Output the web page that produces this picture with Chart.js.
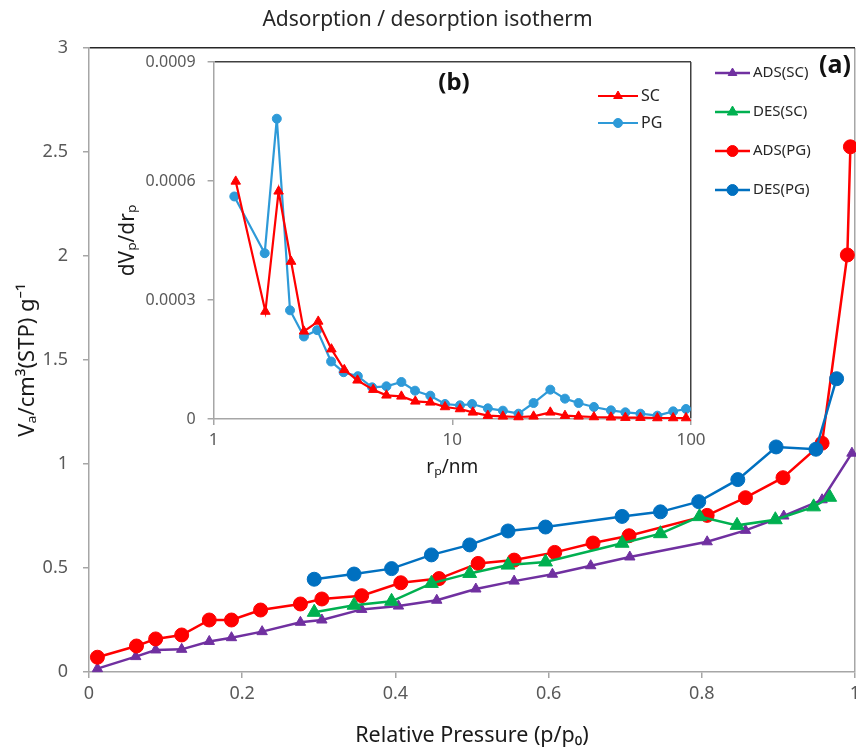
<!DOCTYPE html>
<html>
<head>
<meta charset="utf-8">
<script src="https://cdn.jsdelivr.net/npm/chart.js@4.4.1/dist/chart.umd.min.js"></script>
<style>
html,body{margin:0;padding:0;background:#fff;overflow:hidden;width:856px;height:749px;}
#main{position:absolute;left:0;top:0;}
#inset{position:absolute;left:110px;top:50px;background:#fff;}
</style>
</head>
<body>
<canvas id="main" width="880" height="749"></canvas>
<canvas id="inset" width="600" height="440"></canvas>
<script>
// ---------- main isotherm data (relative pressure p/p0, adsorbed volume) ----------
const pressureAdsSC = [0.011,0.061,0.087,0.121,0.157,0.186,0.226,0.276,0.304,0.356,0.404,0.454,0.505,0.555,0.605,0.655,0.706,0.807,0.857,0.907,0.957,0.996];
const volumeAdsSC   = [0.016,0.074,0.106,0.109,0.147,0.165,0.194,0.239,0.250,0.301,0.317,0.345,0.399,0.437,0.470,0.511,0.553,0.626,0.681,0.750,0.828,1.052];

const pressureDesSC = [0.294,0.346,0.395,0.447,0.497,0.547,0.596,0.696,0.746,0.797,0.846,0.896,0.946,0.967];
const volumeDesSC   = [0.287,0.321,0.340,0.426,0.474,0.514,0.529,0.619,0.665,0.747,0.705,0.732,0.794,0.840];

const pressureAdsPG = [0.011,0.062,0.087,0.121,0.157,0.186,0.224,0.276,0.304,0.356,0.407,0.457,0.508,0.555,0.608,0.658,0.705,0.807,0.857,0.906,0.957,0.990,0.994];
const volumeAdsPG   = [0.071,0.125,0.159,0.178,0.250,0.250,0.298,0.327,0.351,0.367,0.429,0.449,0.522,0.538,0.575,0.620,0.655,0.753,0.838,0.934,1.100,2.005,2.525];

const pressureDesPG = [0.294,0.346,0.395,0.447,0.497,0.547,0.596,0.696,0.746,0.796,0.847,0.897,0.949,0.976];
const volumeDesPG   = [0.446,0.471,0.497,0.563,0.611,0.678,0.697,0.748,0.770,0.819,0.925,1.082,1.071,1.410];

const mainSeriesLabels = ['ADS(SC)','DES(SC)','ADS(PG)','DES(PG)'];
const mainXTicks = [0,0.2,0.4,0.6,0.8,1];
const mainYTicks = [0,0.5,1,1.5,2,2.5,3];

// ---------- inset pore size distribution data (r_p nm, dV/dr) ----------
const radiusSC = [1.238,1.648,1.872,2.112,2.39,2.744,3.116,3.528,4.007,4.663,5.297,6.12,7.0,8.09,9.32,10.77,12.19,14.09,16.29,18.94,21.9,25.74,29.65,33.8,39.2,46.2,53.1,61.4,72.3,84.2,95.3];
const dvdrSC   = [0.000599,0.000271,0.000574,0.000397,0.000221,0.000246,0.000176,0.000124,0.0000975,0.000074,0.0000597,0.0000571,0.0000445,0.000042,0.0000303,0.0000252,0.0000168,0.0000084,0.0000067,0.000005,0.0000067,0.0000168,0.0000084,0.0000067,0.000005,0.0000042,0.0000034,0.0000034,0.0000025,0.0000025,0.0000025];

const radiusPG = [1.221,1.637,1.84,2.09,2.39,2.715,3.106,3.504,4.02,4.615,5.297,6.12,6.98,8.09,9.32,10.77,12.1,14.09,16.29,18.94,21.9,25.74,29.65,33.8,39.2,46.2,53.1,61.4,72.3,84.2,95.3];
const dvdrPG   = [0.000561,0.000418,0.000757,0.000274,0.000208,0.000224,0.000145,0.000118,0.000108,0.0000798,0.0000824,0.0000933,0.0000714,0.0000588,0.0000378,0.0000345,0.0000378,0.0000269,0.000021,0.0000134,0.0000403,0.000074,0.0000513,0.0000403,0.0000303,0.0000218,0.0000168,0.0000134,0.0000084,0.0000193,0.0000252];

const insetSeriesLabels = ['SC','PG'];
const insetXTicks = [1,10,100];
const insetYTicks = [0,0.0003,0.0006,0.0009];

// ---------- helpers ----------
const FONT = "'Noto Sans', 'Open Sans', 'DejaVu Sans', sans-serif";
const AXIS_GRAY = '#a6a6a6';
const TICK_TEXT = '#595959';
const zip = (xs, ys) => xs.map((x, i) => ({x: x, y: ys[i]}));
const fixedTicks = arr => scale => { scale.ticks = arr.map(v => ({value: v})); };

function drawMarker(ctx, style, r, x, y) {
  if (Chart.helpers && Chart.helpers.drawPoint) {
    Chart.helpers.drawPoint(ctx, {pointStyle: style, radius: r, borderWidth: 1, rotation: 0}, x, y);
    return;
  }
  ctx.beginPath();
  if (style === 'triangle') {
    ctx.moveTo(x, y - r);
    ctx.lineTo(x + r * 0.866, y + r * 0.5);
    ctx.lineTo(x - r * 0.866, y + r * 0.5);
    ctx.closePath();
  } else {
    ctx.arc(x, y, r, 0, Math.PI * 2);
  }
  ctx.fill();
}

const lineLegend = {
  id: 'lineLegend',
  afterDatasetsDraw(chart, args, opts) {
    if (!opts || !opts.items) return;
    const ctx = chart.ctx;
    ctx.save();
    opts.items.forEach((it, i) => {
      const ds = chart.data.datasets[it.index];
      const y = opts.y + i * opts.gap;
      ctx.strokeStyle = ds.borderColor;
      ctx.fillStyle = ds.borderColor;
      ctx.lineWidth = opts.lineWidth;
      ctx.beginPath();
      ctx.moveTo(opts.x, y);
      ctx.lineTo(opts.x + opts.len, y);
      ctx.stroke();
      ctx.lineWidth = 1;
      drawMarker(ctx, ds.pointStyle, it.r, opts.x + opts.len / 2, y);
      ctx.fillStyle = opts.color;
      ctx.font = opts.font;
      ctx.textAlign = 'left';
      ctx.textBaseline = 'middle';
      ctx.fillText(ds.label, opts.x + opts.len + opts.textGap, y);
    });
    ctx.restore();
  }
};

const panelLabel = {
  id: 'panelLabel',
  afterDraw(chart, args, opts) {
    if (!opts || !opts.text) return;
    const ctx = chart.ctx;
    ctx.save();
    ctx.font = opts.font;
    ctx.fillStyle = opts.color;
    ctx.textAlign = opts.align;
    ctx.textBaseline = 'middle';
    ctx.fillText(opts.text, opts.x, opts.y);
    ctx.restore();
  }
};

Chart.register(lineLegend, panelLabel);

// ---------- main chart ----------
const mainColors = ['#7030A0', '#00B050', '#FF0000', '#0070C0'];
const mainStyles = ['triangle', 'triangle', 'circle', 'circle'];
const mainRadius = [6, 8, 7, 7];
const mainOrder  = [4, 2, 3, 1];
const mainData = [zip(pressureAdsSC, volumeAdsSC), zip(pressureDesSC, volumeDesSC), zip(pressureAdsPG, volumeAdsPG), zip(pressureDesPG, volumeDesPG)];

new Chart(document.getElementById('main'), {
  type: 'scatter',
  data: {
    datasets: mainSeriesLabels.map((lab, i) => ({
      label: lab,
      data: mainData[i],
      borderColor: mainColors[i],
      backgroundColor: mainColors[i],
      pointStyle: mainStyles[i],
      pointRadius: mainRadius[i],
      pointBorderWidth: 1,
      borderWidth: 2.5,
      showLine: true,
      order: mainOrder[i],
      clip: false
    }))
  },
  options: {
    responsive: false,
    animation: false,
    events: [],
    layout: {padding: {left: 0, right: 25, top: 0, bottom: 0}},
    plugins: {
      legend: {display: false},
      tooltip: {enabled: false},
      title: {
        display: true,
        text: 'Adsorption / desorption isotherm',
        color: '#262626',
        font: {family: FONT, size: 21, weight: 'normal'},
        padding: {top: 7.5, bottom: 15.3}
      },
      lineLegend: {
        items: [{index: 0, r: 5}, {index: 1, r: 6}, {index: 2, r: 5.5}, {index: 3, r: 5.5}],
        x: 715, y: 73, gap: 39, len: 35, textGap: 3, lineWidth: 2.5,
        font: '15px ' + FONT, color: '#262626'
      },
      panelLabel: {text: '(a)', x: 819, y: 66, align: 'left', font: 'bold 25px ' + FONT, color: '#111'}
    },
    scales: {
      x: {
        type: 'linear', min: 0, max: 1,
        afterBuildTicks: fixedTicks(mainXTicks),
        afterFit(s) { s.height = 77; s.paddingLeft = 0; s.paddingRight = 0; },
        border: {color: AXIS_GRAY, width: 1.5},
        grid: {
          color: c => (c.tick && c.tick.value === 1) ? AXIS_GRAY : 'rgba(0,0,0,0)',
          tickColor: AXIS_GRAY, tickLength: 6, lineWidth: 1.5
        },
        ticks: {color: TICK_TEXT, font: {family: FONT, size: 18}, padding: 5, maxRotation: 0, callback: v => String(v)},
        title: {display: true, text: 'Relative Pressure (p/p₀)', color: '#1a1a1a', font: {family: FONT, size: 21.5}, padding: {top: 0, bottom: 0}}
      },
      y: {
        type: 'linear', min: 0, max: 3,
        afterBuildTicks: fixedTicks(mainYTicks),
        afterFit(s) { s.width = 89; s.paddingTop = 0; s.paddingBottom = 0; },
        border: {color: AXIS_GRAY, width: 1.5},
        grid: {
          color: c => (c.tick && c.tick.value === 3) ? '#262626' : 'rgba(0,0,0,0)',
          tickColor: AXIS_GRAY, tickLength: 6, lineWidth: 1.5
        },
        ticks: {color: TICK_TEXT, font: {family: FONT, size: 18}, padding: 15, callback: v => String(v)},
        title: {display: true, text: 'Vₐ/cm³(STP) g⁻¹', color: '#1a1a1a', font: {family: FONT, size: 22}, padding: {top: 15, bottom: 0}}
      }
    }
  }
});

// ---------- inset chart ----------
const insetColors = ['#FF0000', '#2E9AD8'];
const insetStyles = ['triangle', 'circle'];
const insetRadius = [5.5, 4.5];
const insetData = [zip(radiusSC, dvdrSC), zip(radiusPG, dvdrPG)];

new Chart(document.getElementById('inset'), {
  type: 'scatter',
  data: {
    datasets: insetSeriesLabels.map((lab, i) => ({
      label: lab,
      data: insetData[i],
      borderColor: insetColors[i],
      backgroundColor: insetColors[i],
      pointStyle: insetStyles[i],
      pointRadius: insetRadius[i],
      pointBorderWidth: 1,
      borderWidth: 2.2,
      showLine: true,
      clip: false
    }))
  },
  options: {
    responsive: false,
    animation: false,
    events: [],
    layout: {padding: {left: 0, right: 19, top: 12, bottom: 0}},
    plugins: {
      legend: {display: false},
      tooltip: {enabled: false},
      title: {display: false},
      lineLegend: {
        items: [{index: 0, r: 5}, {index: 1, r: 4.5}],
        x: 488, y: 46, gap: 27, len: 40, textGap: 3, lineWidth: 2.2,
        font: '16px ' + FONT, color: '#262626'
      },
      panelLabel: {text: '(b)', x: 344, y: 33, align: 'center', font: 'bold 24px ' + FONT, color: '#111'}
    },
    scales: {
      x: {
        type: 'logarithmic', min: 1, max: 100,
        afterBuildTicks: fixedTicks(insetXTicks),
        afterFit(s) { s.height = 71; s.paddingLeft = 0; s.paddingRight = 0; },
        border: {color: AXIS_GRAY, width: 1.5},
        grid: {
          color: c => (c.tick && c.tick.value === 100) ? '#404040' : 'rgba(0,0,0,0)',
          tickColor: AXIS_GRAY, tickLength: 6, lineWidth: 1.5
        },
        ticks: {color: TICK_TEXT, font: {family: FONT, size: 17}, padding: 5, maxRotation: 0, autoSkip: false, callback: v => String(v)},
        title: {display: true, text: 'rₚ/nm', color: '#1a1a1a', font: {family: FONT, size: 19}, padding: {top: 0, bottom: 11}}
      },
      y: {
        type: 'linear', min: 0, max: 0.0009,
        afterBuildTicks: fixedTicks(insetYTicks),
        afterFit(s) { s.width = 103.6; s.paddingTop = 0; s.paddingBottom = 0; },
        border: {color: AXIS_GRAY, width: 1.5},
        grid: {
          color: c => (c.tick && Math.abs(c.tick.value - 0.0009) < 1e-9) ? '#404040' : 'rgba(0,0,0,0)',
          tickColor: AXIS_GRAY, tickLength: 6, lineWidth: 1.5
        },
        ticks: {color: TICK_TEXT, font: {family: FONT, size: 16}, padding: 12, callback: v => v === 0 ? '0' : Number(v).toFixed(4)},
        title: {display: true, text: 'dVₚ/drₚ', color: '#1a1a1a', font: {family: FONT, size: 21}, padding: {top: 5, bottom: 0}}
      }
    }
  }
});
</script>
</body>
</html>
